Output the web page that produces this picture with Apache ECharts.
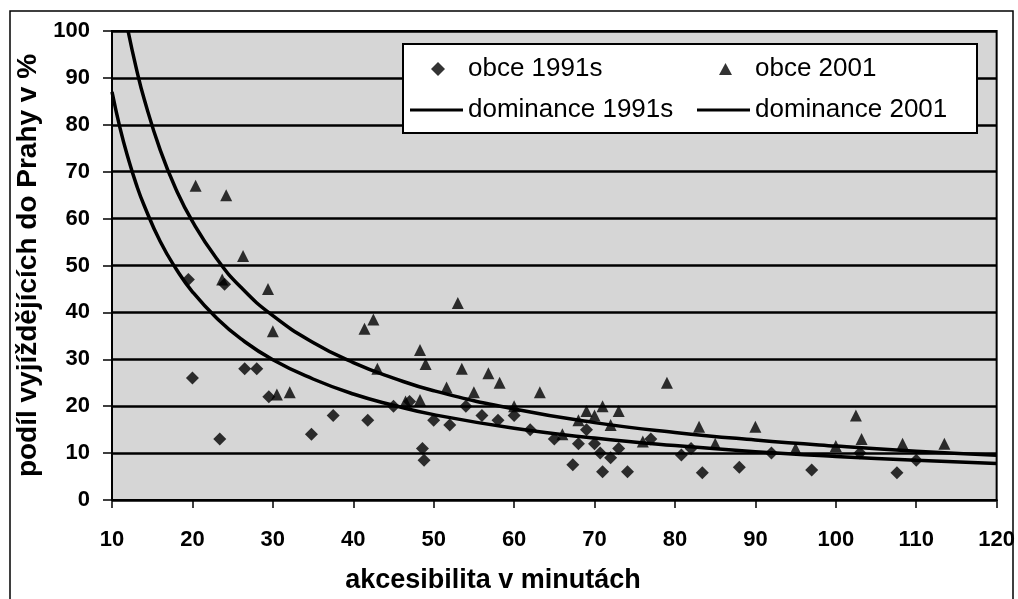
<!DOCTYPE html>
<html>
<head>
<meta charset="utf-8">
<script src="https://cdn.jsdelivr.net/npm/echarts@6/dist/echarts.min.js"></script>
<style>
  html, body { margin: 0; padding: 0; background: #fff; }
  #chart { width: 1018px; height: 599px; }
</style>
</head>
<body>
<div id="chart"></div>
<script>
// values
const xTicks = [10, 120, 10];   // min, max, step
const yTicks = [0, 100, 10];

const obce1991 = [
  [19.5, 47], [20, 26], [23.4, 13], [24, 46], [26.5, 28], [28, 28], [29.5, 22],
  [34.8, 14], [37.5, 18], [41.8, 17], [45, 20], [47, 21], [48.6, 11], [48.8, 8.5],
  [50, 17], [52, 16], [54, 20], [56, 18], [58, 17], [60, 18], [62, 15], [65, 13],
  [67.3, 7.5], [68, 12], [69, 15], [70, 12], [70.7, 10], [71, 6], [72, 9], [73, 11],
  [74.1, 6], [77, 13], [80.8, 9.6], [82, 11], [83.4, 5.8], [88, 7], [92, 10],
  [97, 6.4], [103, 10], [107.6, 5.8], [110, 8.5]
];
const obce2001 = [
  [20.4, 67], [24.2, 65], [23.7, 47], [26.3, 52], [29.4, 45], [30, 36], [30.5, 22.5],
  [32.1, 23], [41.4, 36.5], [42.5, 38.5], [43, 28], [46.5, 21], [48.3, 32], [48.3, 21.3],
  [49, 29], [51.6, 24], [53, 42], [53.5, 28], [55, 23], [56.8, 27], [58.2, 25], [60, 20],
  [63.2, 23], [66, 14], [68, 17], [69, 19], [70, 18], [71, 20], [72, 16], [73, 19],
  [76, 12.5], [79, 25], [83, 15.6], [85, 12], [90, 15.6], [95, 11], [100, 11.5],
  [102.5, 18], [103.2, 13], [108.3, 12], [113.5, 12]
];

// trend curves, read at these x positions
const curveX = [10, 11, 12, 13, 14, 16, 18, 20, 23, 26, 30, 35, 40, 45, 50, 60, 70, 80, 90, 100, 110, 120];
const dom1991 = [87, 79.3, 72.9, 67.4, 62.8, 55.1, 49.2, 44.4, 38.8, 34.4, 29.9, 25.8, 22.6, 20.2, 18.2, 15.3, 13.2, 11.6, 10.3, 9.3, 8.5, 7.8];
const dom2001 = [null, null, 100, 92.2, 85.5, 74.6, 66.1, 59.4, 51.5, 45.4, 39.3, 33.6, 29.3, 26.0, 23.3, 19.4, 16.5, 14.4, 12.8, 11.5, 10.4, 9.55];

const FONT = 'Arial, "Liberation Sans", sans-serif';

const pairs = (ys) => curveX.map((x, i) => [x, ys[i]]).filter(p => p[1] != null);

const chart = echarts.init(document.getElementById('chart'), null, { renderer: 'canvas' });

const legendBase = {
  orient: 'horizontal',
  padding: 0,
  z: 5,
  selectedMode: false,
  textStyle: { fontFamily: FONT, fontSize: 26, color: '#000' },
  itemStyle: { color: '#000' }
};

const option = {
  animation: false,
  backgroundColor: '#fff',
  grid: {
    left: 112, top: 31, width: 885, height: 469,
    show: true,
    backgroundColor: '#d6d6d6',
    borderColor: '#000',
    borderWidth: 2
  },
  xAxis: {
    type: 'value',
    min: xTicks[0], max: xTicks[1], interval: xTicks[2],
    axisLine: { lineStyle: { color: '#000', width: 2 } },
    axisTick: { show: true, length: 8, lineStyle: { color: '#000', width: 1.5 } },
    axisLabel: { margin: 29, color: '#000', fontFamily: FONT, fontSize: 22, fontWeight: 'bold' },
    splitLine: { show: false }
  },
  yAxis: {
    type: 'value',
    min: yTicks[0], max: yTicks[1], interval: yTicks[2],
    name: 'podíl vyjíždějících do Prahy v %',
    nameLocation: 'middle',
    nameGap: 64,
    nameTextStyle: { color: '#000', fontFamily: FONT, fontSize: 28, fontWeight: 'bold' },
    axisLine: { show: true, lineStyle: { color: '#000', width: 2 } },
    axisTick: { show: true, length: 9, lineStyle: { color: '#000', width: 1.5 } },
    axisLabel: { margin: 22, color: '#000', fontFamily: FONT, fontSize: 22, fontWeight: 'bold' },
    splitLine: { show: true, lineStyle: { color: '#000', width: 2.5 } }
  },
  legend: [
    Object.assign({}, legendBase, {
      data: [{ name: 'obce 1991s', icon: 'diamond' }], left: 431, top: 56,
      itemWidth: 14, itemHeight: 14,
      textStyle: Object.assign({}, legendBase.textStyle, { padding: [0, 0, 0, 18] })
    }),
    Object.assign({}, legendBase, {
      data: [{ name: 'obce 2001', icon: 'triangle' }], left: 719, top: 56,
      itemWidth: 13, itemHeight: 12,
      textStyle: Object.assign({}, legendBase.textStyle, { padding: [0, 0, 0, 18] })
    }),
    Object.assign({}, legendBase, {
      data: ['dominance 1991s'], left: 410, top: 97, itemWidth: 53, itemHeight: 3, icon: 'rect'
    }),
    Object.assign({}, legendBase, {
      data: ['dominance 2001'], left: 697, top: 97, itemWidth: 53, itemHeight: 3, icon: 'rect'
    })
  ],
  graphic: [
    {
      type: 'rect', z: 3, silent: true,
      shape: { x: 10, y: 11, width: 1003, height: 620 },
      style: { fill: null, stroke: '#000', lineWidth: 1.5 }
    },
    {
      type: 'rect', z: 3, silent: true,
      shape: { x: 403, y: 44, width: 574, height: 89 },
      style: { fill: '#fff', stroke: '#000', lineWidth: 2 }
    },
    {
      type: 'text', z: 3, silent: true,
      x: 493, y: 581,
      style: {
        text: 'akcesibilita v minutách',
        fill: '#000',
        font: 'bold 27px ' + FONT,
        textAlign: 'center',
        textVerticalAlign: 'middle'
      }
    }
  ],
  series: [
    {
      name: 'obce 1991s',
      type: 'scatter',
      symbol: 'diamond',
      symbolSize: 13,
      itemStyle: { color: '#000' },
      data: obce1991
    },
    {
      name: 'obce 2001',
      type: 'scatter',
      symbol: 'triangle',
      symbolSize: 12,
      itemStyle: { color: '#000' },
      data: obce2001
    },
    {
      name: 'dominance 1991s',
      type: 'line',
      smooth: 0.5,
      showSymbol: false,
      symbol: 'none',
      lineStyle: { color: '#000', width: 3.5 },
      itemStyle: { color: '#000' },
      data: pairs(dom1991)
    },
    {
      name: 'dominance 2001',
      type: 'line',
      smooth: 0.5,
      showSymbol: false,
      symbol: 'none',
      lineStyle: { color: '#000', width: 3.5 },
      itemStyle: { color: '#000' },
      data: pairs(dom2001)
    }
  ]
};

chart.setOption(option);
</script>
</body>
</html>
